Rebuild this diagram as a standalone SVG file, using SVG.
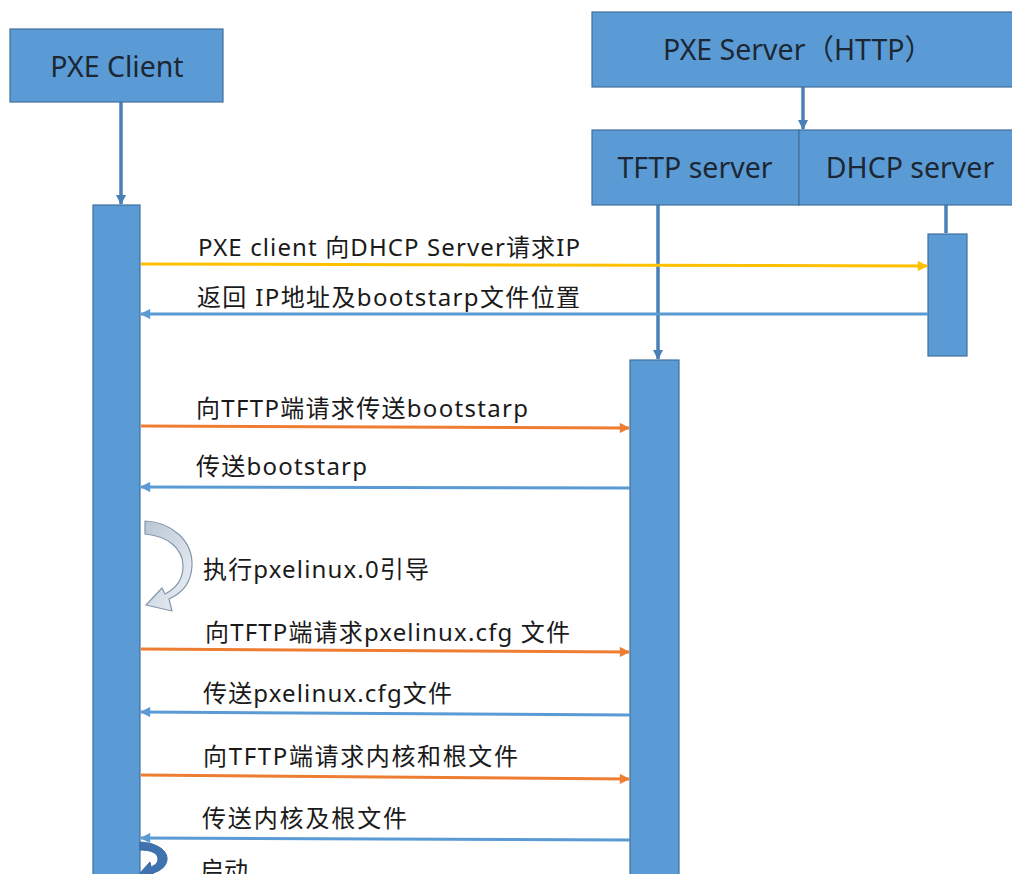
<svg xmlns="http://www.w3.org/2000/svg" width="1012" height="874" viewBox="0 0 1012 874">
  <style>
    .box { fill: #5b9bd5; stroke: #41719c; stroke-width: 1.2; }
    .title { font-family: "Noto Sans", "Noto Sans CJK SC", sans-serif; font-size: 28.5px; fill: #1c2733; text-anchor: middle; }
    .label { font-family: "Noto Sans", "Noto Sans CJK SC", sans-serif; font-size: 24px; fill: #1a1a1a; }
    .life { stroke: #4a7fb8; stroke-width: 3.5; fill: none; }
    .req-y { stroke: #ffc000; stroke-width: 3; fill: none; }
    .req-o { stroke: #ed7d31; stroke-width: 3; fill: none; }
    .resp { stroke: #5b9bd5; stroke-width: 3; fill: none; }
  </style>
  <defs>
    <marker id="head-life" viewBox="0 0 10 10" refX="9" refY="5" markerWidth="3" markerHeight="3" orient="auto">
      <path d="M0,0 L10,5 L0,10 Z" fill="#4a7fb8"/>
    </marker>
    <marker id="head-y" viewBox="0 0 10 10" refX="9" refY="5" markerWidth="4" markerHeight="3.4" orient="auto">
      <path d="M0,0 L10,5 L0,10 Z" fill="#ffc000"/>
    </marker>
    <marker id="head-o" viewBox="0 0 10 10" refX="9" refY="5" markerWidth="4" markerHeight="3.4" orient="auto">
      <path d="M0,0 L10,5 L0,10 Z" fill="#ed7d31"/>
    </marker>
    <marker id="head-b" viewBox="0 0 10 10" refX="9" refY="5" markerWidth="4" markerHeight="3.4" orient="auto">
      <path d="M0,0 L10,5 L0,10 Z" fill="#5b9bd5"/>
    </marker>
    <linearGradient id="loop-fill" x1="0" y1="0" x2="1" y2="1">
      <stop offset="0" stop-color="#b9c6d4"/>
      <stop offset="1" stop-color="#eef2f6"/>
    </linearGradient>
  </defs>

  <rect width="1012" height="874" fill="#ffffff"/>

  <!-- lifelines from the heads down to the activation bars -->
  <g id="lifelines">
    <line class="life" x1="121" y1="102" x2="121" y2="204" marker-end="url(#head-life)"/>
    <line class="life" x1="803" y1="87" x2="803" y2="129" marker-end="url(#head-life)"/>
    <line class="life" x1="658" y1="205" x2="658" y2="359" marker-end="url(#head-life)"/>
    <line class="life" x1="946" y1="205" x2="946" y2="233"/>
  </g>

  <g id="pxe-client">
    <rect class="box" x="10" y="29" width="213" height="73"/>
    <text class="title" x="117" y="77">PXE Client</text>
  </g>

  <g id="pxe-server">
    <rect class="box" x="592" y="12" width="425" height="75"/>
    <text class="title" x="798" y="60">PXE Server（HTTP）</text>
  </g>

  <g id="tftp-server">
    <rect class="box" x="592" y="130" width="207" height="75"/>
    <text class="title" x="695" y="178">TFTP server</text>
  </g>

  <g id="dhcp-server">
    <rect class="box" x="799" y="130" width="218" height="75"/>
    <text class="title" x="910" y="178">DHCP server</text>
  </g>

  <!-- activation bars -->
  <g id="client-bar">
    <rect class="box" x="93" y="205" width="47" height="680"/>
  </g>
  <g id="dhcp-bar">
    <rect class="box" x="928" y="234" width="39" height="122"/>
  </g>
  <g id="tftp-bar">
    <rect class="box" x="630" y="360" width="49" height="525"/>
  </g>

  <!-- messages -->
  <g id="messages">
    <line class="req-y" x1="141" y1="264" x2="927" y2="266" marker-end="url(#head-y)"/>
    <line class="resp" x1="928" y1="314" x2="141" y2="314" marker-end="url(#head-b)"/>
    <line class="req-o" x1="141" y1="426" x2="629" y2="428" marker-end="url(#head-o)"/>
    <line class="resp" x1="630" y1="488" x2="141" y2="487" marker-end="url(#head-b)"/>
    <line class="req-o" x1="141" y1="649" x2="629" y2="652" marker-end="url(#head-o)"/>
    <line class="resp" x1="630" y1="715" x2="141" y2="712" marker-end="url(#head-b)"/>
    <line class="req-o" x1="141" y1="775" x2="629" y2="779" marker-end="url(#head-o)"/>
    <line class="resp" x1="630" y1="840" x2="141" y2="838" marker-end="url(#head-b)"/>

    <!-- self call: run pxelinux.0 -->
    <path d="M145,521 C172,522 193,541 192,566 C191,582 184,592 169,599 L172,611 L146,605 L162,588 L165,594 C177,588 183,578 183,566 C183,548 167,536 145,534 Z"
          fill="url(#loop-fill)" stroke="#8397ad" stroke-width="1.2" stroke-linejoin="round"/>

    <!-- self call: boot -->
    <path d="M140,842 C158,843 168,851 167,860 C166,867 160,871 153,873 L155,880 L140,873 L150,862 L151,867 C156,865 158,862 158,859 C158,853 151,850 140,850 Z"
          fill="#3f73b0" stroke="#3a6aa3" stroke-width="1"/>
  </g>

  <g id="labels">
    <text class="label" x="198" y="256" textLength="382" lengthAdjust="spacing">PXE client 向DHCP Server请求IP</text>
    <text class="label" x="197" y="306" textLength="383" lengthAdjust="spacing">返回 IP地址及bootstarp文件位置</text>
    <text class="label" x="196" y="417" textLength="332" lengthAdjust="spacing">向TFTP端请求传送bootstarp</text>
    <text class="label" x="196" y="475" textLength="171" lengthAdjust="spacing">传送bootstarp</text>
    <text class="label" x="203" y="578" textLength="226" lengthAdjust="spacing">执行pxelinux.0引导</text>
    <text class="label" x="205" y="641" textLength="365" lengthAdjust="spacing">向TFTP端请求pxelinux.cfg 文件</text>
    <text class="label" x="203" y="702" textLength="249" lengthAdjust="spacing">传送pxelinux.cfg文件</text>
    <text class="label" x="203" y="765" textLength="315" lengthAdjust="spacing">向TFTP端请求内核和根文件</text>
    <text class="label" x="202" y="827" textLength="205" lengthAdjust="spacing">传送内核及根文件</text>
    <text class="label" x="200" y="879">启动</text>
  </g>
</svg>
